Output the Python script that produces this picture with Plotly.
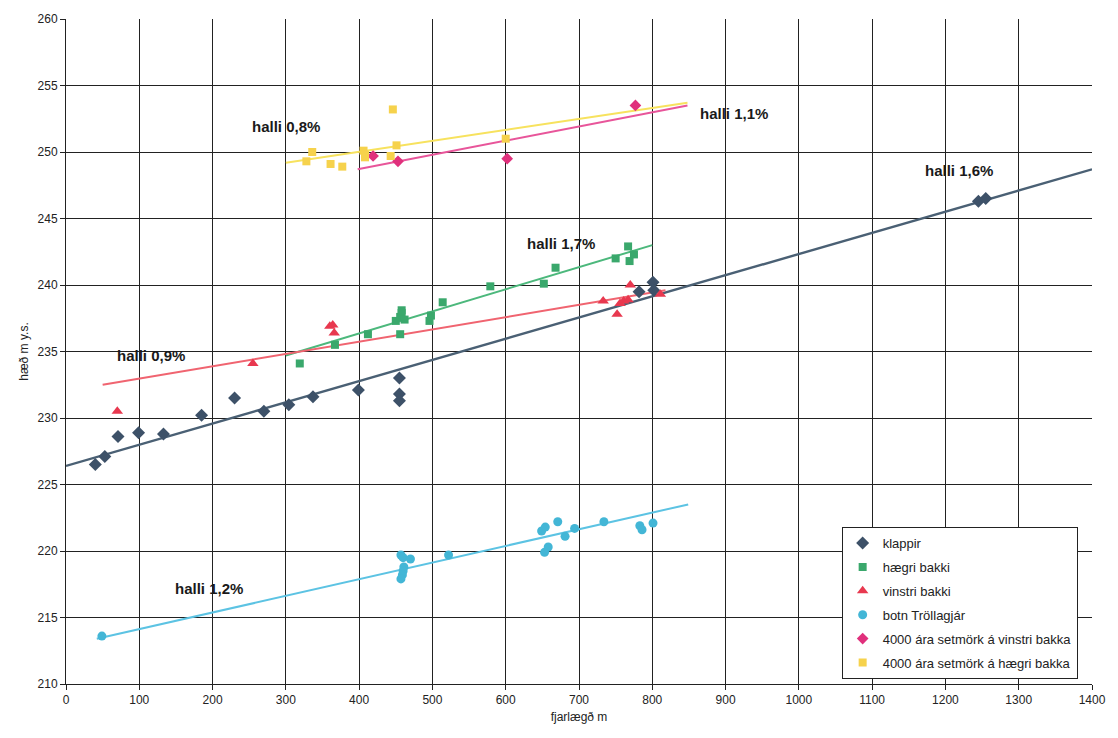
import plotly.graph_objects as go

# --- measured points: distance (m) and elevation (m a.s.l.) ---
klappir_x = [40, 53, 71, 99, 133, 185, 230, 270, 304, 337, 399, 455, 455, 455,
             782, 801, 802, 1245, 1255]
klappir_y = [226.5, 227.1, 228.6, 228.9, 228.8, 230.2, 231.5, 230.5, 231.0, 231.6,
             232.1, 233.0, 231.8, 231.3, 239.5, 240.2, 239.6, 246.3, 246.5]

haegri_x = [319, 367, 412, 450, 456, 458, 458, 462, 456, 496, 498, 514, 579, 652,
            668, 750, 767, 769, 775]
haegri_y = [234.1, 235.5, 236.3, 237.3, 237.6, 237.9, 238.1, 237.4, 236.3, 237.3,
            237.7, 238.7, 239.9, 240.1, 241.3, 242.0, 242.9, 241.8, 242.3]

vinstri_x = [70, 255, 360, 364, 366, 733, 752, 756, 761, 767, 770, 811]
vinstri_y = [230.5, 234.1, 236.9, 237.0, 236.4, 238.8, 237.8, 238.6, 238.8, 238.9,
             240.0, 239.3]

botn_x = [49, 457, 460, 461, 460, 459, 457, 470, 522, 649, 654, 653, 658, 671,
          681, 694, 734, 783, 786, 801]
botn_y = [213.6, 219.7, 219.5, 218.8, 218.5, 218.2, 217.9, 219.4, 219.7, 221.5,
          221.8, 219.9, 220.3, 222.2, 221.1, 221.7, 222.2, 221.9, 221.6, 222.1]

setm_v_x = [419, 453, 602, 777]
setm_v_y = [249.7, 249.3, 249.5, 253.5]

setm_h_x = [328, 336, 361, 377, 406, 408, 408, 443, 446, 451, 600]
setm_h_y = [249.3, 250.0, 249.1, 248.9, 250.1, 249.8, 249.6, 249.7, 253.2, 250.5,
            251.0]

# --- fitted gradient lines: [start, end] ---
klappir_line_x, klappir_line_y = [0, 1400], [226.4, 248.7]
haegri_line_x, haegri_line_y = [300, 800], [234.7, 243.0]
vinstri_line_x, vinstri_line_y = [50, 818], [232.5, 239.6]
botn_line_x, botn_line_y = [42, 849], [213.4, 223.5]
setm_v_line_x, setm_v_line_y = [398, 848], [248.7, 253.5]
setm_h_line_x, setm_h_line_y = [300, 848], [249.2, 253.7]

# --- gradient labels ---
label_text = ["halli 0,8%", "halli 1,1%", "halli 1,6%", "halli 1,7%",
              "halli 0,9%", "halli 1,2%"]
label_x = [300, 911, 1219, 675, 116, 195]
label_y = [251.9, 252.9, 248.6, 243.1, 234.7, 217.2]

x_ticks = list(range(0, 1401, 100))
y_ticks = list(range(210, 261, 5))

fig = go.Figure()

# trend lines first so markers sit on top
lines = [
    (klappir_line_x, klappir_line_y, "#4a6074", 2.4),
    (haegri_line_x, haegri_line_y, "#4cb87c", 2),
    (vinstri_line_x, vinstri_line_y, "#f06470", 2),
    (botn_line_x, botn_line_y, "#5cc3e3", 2),
    (setm_v_line_x, setm_v_line_y, "#e8559a", 2),
    (setm_h_line_x, setm_h_line_y, "#f7e25e", 2),
]
for lx, ly, col, w in lines:
    fig.add_trace(go.Scatter(x=lx, y=ly, mode="lines", showlegend=False,
                             line=dict(color=col, width=w), hoverinfo="skip"))

series = [
    ("klappir", klappir_x, klappir_y, "diamond", "#3d5168", 10),
    ("hægri bakki", haegri_x, haegri_y, "square", "#3aa86c", 8),
    ("vinstri bakki", vinstri_x, vinstri_y, "triangle-up", "#e8384f", 10),
    ("botn Tröllagjár", botn_x, botn_y, "circle", "#43b6d6", 9),
    ("4000 ára setmörk á vinstri bakka", setm_v_x, setm_v_y, "diamond", "#e0307c", 9),
    ("4000 ára setmörk á hægri bakka", setm_h_x, setm_h_y, "square", "#f6d24c", 8),
]
for name, sx, sy, sym, col, size in series:
    fig.add_trace(go.Scatter(x=sx, y=sy, mode="markers", name=name,
                             legendgroup=name,
                             marker=dict(symbol=sym, color=col, size=size)))

for t, x, y in zip(label_text, label_x, label_y):
    fig.add_annotation(x=x, y=y, text="<b>%s</b>" % t, showarrow=False,
                       font=dict(size=15, color="#1a1a1a",
                                 family="Liberation Sans, Arial, sans-serif"))

axis_common = dict(
    showgrid=True, gridcolor="#222222", gridwidth=1,
    showline=True, linecolor="#222222", linewidth=1,
    ticks="outside", ticklen=5, tickcolor="#222222",
    tickfont=dict(size=12, color="#222222"),
    zeroline=False, mirror=False,
)

fig.update_xaxes(range=[0, 1400], tickvals=x_ticks,
                 title=dict(text="fjarlægð m", font=dict(size=12), standoff=6),
                 **axis_common)
fig.update_yaxes(range=[210, 260], tickvals=y_ticks,
                 title=dict(text="hæð m y.s.", font=dict(size=12), standoff=6),
                 **axis_common)

fig.update_layout(
    width=1118, height=738,
    margin=dict(l=66, r=15, t=18, b=54),
    paper_bgcolor="white", plot_bgcolor="white",
    font=dict(family="Liberation Sans, Arial, sans-serif", color="#222222"),
    legend=dict(x=0.756, y=0.236, xanchor="left", yanchor="top",
                bgcolor="white", bordercolor="#222222", borderwidth=1,
                font=dict(size=13), tracegroupgap=4, itemwidth=30),
    showlegend=True,
)

fig.write_html("out.html")
